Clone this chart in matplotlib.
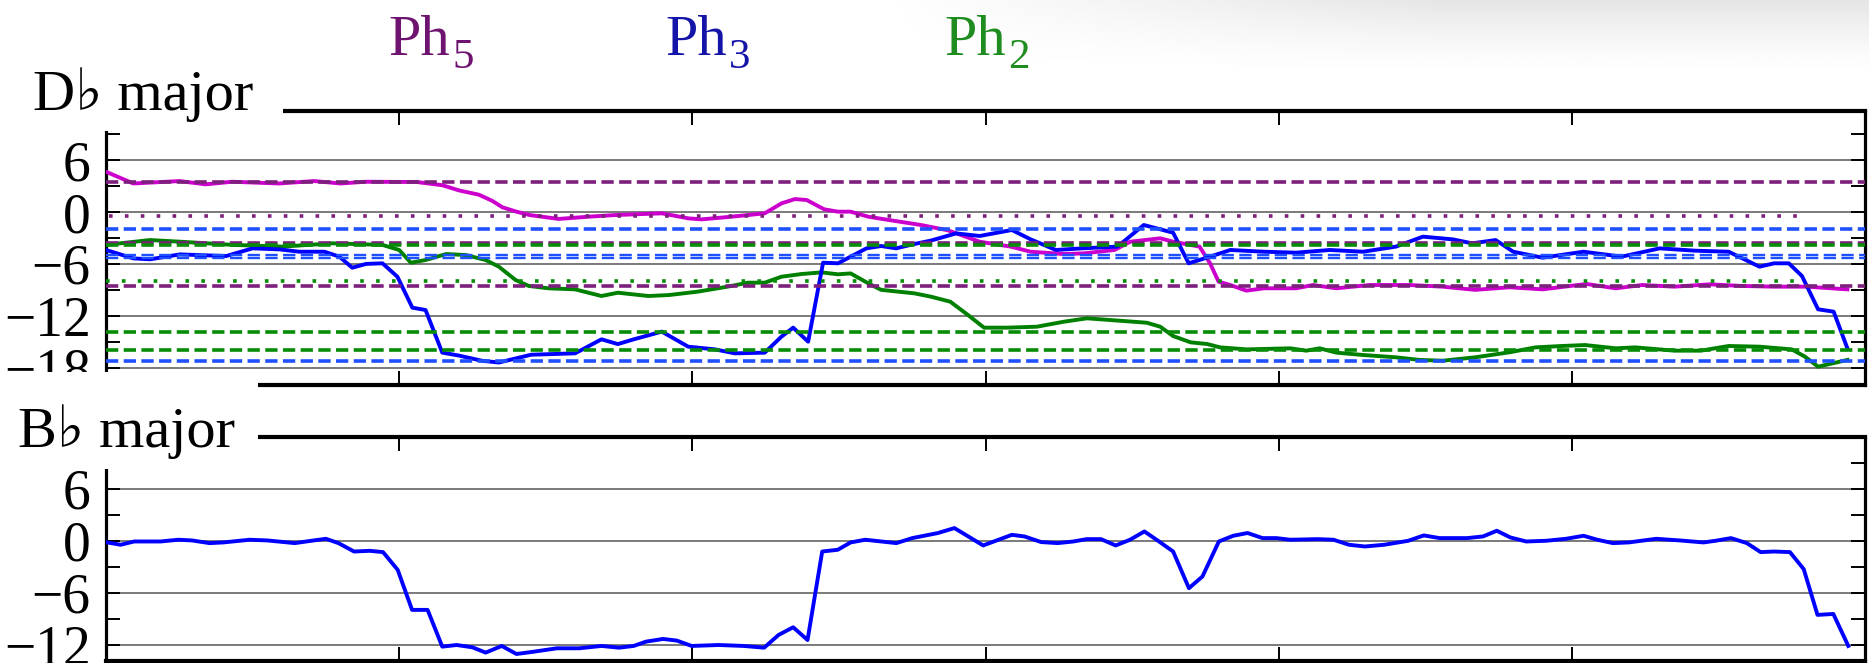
import numpy as np
import matplotlib
matplotlib.use("Agg")
import matplotlib.pyplot as plt
from matplotlib.patches import Rectangle

plt.rcParams['font.family'] = ['Liberation Serif', 'DejaVu Serif', 'DejaVu Sans']
plt.rcParams['axes.unicode_minus'] = True

# ---- data (x in tick units, y in semitones) ----
# D flat major panel
ph5_x = [0, 0.093, 0.25, 0.34, 0.43, 0.59, 0.71, 0.8, 0.885, 1.06,
         1.147, 1.204, 1.272, 1.317, 1.352, 1.4, 1.445, 1.544, 1.646, 1.737,
         1.896, 1.986, 2.032, 2.134, 2.247, 2.304, 2.35, 2.39, 2.45, 2.497,
         2.54, 2.6, 2.67, 2.78, 2.87, 2.98, 3.086, 3.154, 3.268, 3.335,
         3.44, 3.494, 3.596, 3.64, 3.73, 3.766, 3.795, 3.835, 3.89, 3.95,
         4.06, 4.117, 4.197, 4.31, 4.447, 4.56, 4.67, 4.787, 4.9, 5.05,
         5.15, 5.24, 5.35, 5.47, 5.58, 5.69, 5.8, 5.94]
ph5_y = [4.66, 3.3, 3.58, 3.2, 3.5, 3.3, 3.58, 3.3, 3.5, 3.47,
         3.1, 2.5, 2.0, 1.3, 0.55, 0.04, -0.35, -0.8, -0.54, -0.35,
         -0.15, -0.73, -0.85, -0.54, -0.15, 1.0, 1.5, 1.39, 0.31, 0.04,
         0.04, -0.54, -0.92, -1.5, -2.1, -3.43, -4.0, -4.59, -4.86, -4.78,
         -4.39, -3.43, -3.04, -3.43, -4.0, -5.93, -8.05, -8.44, -9.09, -8.82,
         -8.82, -8.44, -8.82, -8.44, -8.44, -8.63, -9.0, -8.7, -8.94, -8.32,
         -8.82, -8.44, -8.63, -8.36, -8.55, -8.63, -8.63, -8.94]

ph3_x = [0, 0.093, 0.15, 0.252, 0.41, 0.5, 0.592, 0.66, 0.745, 0.796,
         0.84, 0.887, 0.943, 0.994, 1.045, 1.09, 1.147, 1.204, 1.283, 1.34,
         1.45, 1.6, 1.69, 1.746, 1.8, 1.896, 1.986, 2.077, 2.145, 2.247,
         2.304, 2.344, 2.395, 2.446, 2.497, 2.594, 2.644, 2.695, 2.757, 2.814,
         2.9, 2.98, 3.09, 3.154, 3.24, 3.33, 3.45, 3.54, 3.64, 3.693,
         3.766, 3.835, 3.95, 4.06, 4.174, 4.288, 4.4, 4.492, 4.594, 4.66,
         4.74, 4.8, 4.9, 5.04, 5.17, 5.3, 5.42, 5.535, 5.64, 5.69,
         5.74, 5.785, 5.84, 5.893, 5.94]
ph3_y = [-4.39, -5.36, -5.47, -4.9, -5.09, -4.2, -4.32, -4.59, -4.59, -5.16,
         -6.44, -6.0, -5.93, -7.48, -11.06, -11.33, -16.26, -16.6, -17.2, -17.4,
         -16.5, -16.34, -14.72, -15.27, -14.72, -13.83, -15.57, -15.88, -16.34, -16.26,
         -14.41, -13.37, -14.99, -5.86, -5.93, -4.2, -3.93, -4.2, -3.7, -3.3,
         -2.47, -2.77, -2.08, -3.16, -4.39, -4.2, -4.0, -1.5, -2.39, -5.93,
         -5.16, -4.39, -4.59, -4.7, -4.39, -4.59, -4.0, -2.85, -3.16, -3.62,
         -3.24, -4.59, -5.28, -4.59, -5.16, -4.2, -4.47, -4.59, -6.32, -5.93,
         -5.93, -7.4, -11.25, -11.52, -15.76]

ph2_x = [0, 0.15, 0.252, 0.433, 0.6, 0.773, 0.943, 1.0, 1.04, 1.09,
         1.16, 1.227, 1.295, 1.34, 1.397, 1.442, 1.51, 1.6, 1.69, 1.746,
         1.85, 1.92, 2.02, 2.12, 2.19, 2.247, 2.304, 2.372, 2.44, 2.497,
         2.54, 2.6, 2.644, 2.757, 2.814, 2.88, 2.94, 2.995, 3.074, 3.175,
         3.268, 3.346, 3.426, 3.55, 3.596, 3.64, 3.7, 3.756, 3.8, 3.89,
         4.04, 4.094, 4.14, 4.197, 4.288, 4.4, 4.48, 4.56, 4.67, 4.787,
         4.876, 4.966, 5.045, 5.15, 5.216, 5.35, 5.44, 5.535, 5.64, 5.75,
         5.795, 5.84, 5.94]
ph2_y = [-3.8, -3.24, -3.43, -3.8, -4.0, -3.62, -3.8, -4.39, -5.86, -5.55,
         -4.86, -4.97, -5.55, -6.32, -7.86, -8.55, -8.82, -8.94, -9.71, -9.33,
         -9.71, -9.6, -9.2, -8.63, -8.17, -8.17, -7.48, -7.17, -6.98, -7.2,
         -7.1, -8.24, -9.0, -9.4, -9.79, -10.37, -11.9, -13.37, -13.37, -13.26,
         -12.68, -12.29, -12.49, -12.8, -13.26, -14.34, -15.07, -15.26, -15.65, -15.88,
         -15.76, -16.03, -15.76, -16.26, -16.53, -16.8, -17.1, -17.19, -16.8, -16.22,
         -15.65, -15.49, -15.38, -15.76, -15.65, -16.03, -16.03, -15.49, -15.57, -15.88,
         -16.72, -17.88, -17.1]

# reference levels (value, colour key, style, x range)
ref_levels = [3.5, -0.46, -2.0, -3.56, -3.87, -4.98, -5.32, -7.97, -8.5, -13.9, -16.0, -17.2]
ref_colors = ['purple', 'purple', 'blue', 'purple', 'green', 'blue', 'blue',
              'green', 'purple', 'green', 'green', 'blue']
ref_styles = ['dash', 'dot', 'dash', 'dash', 'dash', 'thin', 'thin',
              'dot', 'dash', 'dash', 'dash', 'dash']
ref_start = [0, 0.01, 0, 0, 0, 0, 0, 0, 0, 0, 0, 0]
ref_end = [6, 5.8, 6, 6, 6, 6, 6, 5.77, 6, 6, 6, 6]

# B flat major panel
bb_x = [0.004, 0.05, 0.096, 0.186, 0.247, 0.293, 0.353, 0.4, 0.49, 0.55,
        0.644, 0.7, 0.75, 0.793, 0.846, 0.9, 0.945, 0.995, 1.044, 1.097,
        1.147, 1.196, 1.25, 1.295, 1.35, 1.4, 1.46, 1.538, 1.614, 1.69,
        1.75, 1.8, 1.842, 1.9, 1.947, 1.998, 2.09, 2.175, 2.245, 2.294,
        2.344, 2.393, 2.443, 2.496, 2.54, 2.59, 2.696, 2.75, 2.837, 2.894,
        2.992, 3.09, 3.133, 3.19, 3.246, 3.3, 3.345, 3.394, 3.444, 3.493,
        3.542, 3.592, 3.64, 3.694, 3.74, 3.796, 3.845, 3.894, 3.945, 3.992,
        4.04, 4.133, 4.187, 4.24, 4.294, 4.36, 4.442, 4.495, 4.549, 4.643,
        4.697, 4.744, 4.79, 4.844, 4.912, 4.98, 5.04, 5.087, 5.14, 5.194,
        5.288, 5.368, 5.449, 5.49, 5.543, 5.597, 5.644, 5.69, 5.744, 5.791,
        5.838, 5.892, 5.943]
bb_y = [-0.19, -0.46, -0.08, -0.08, 0.12, 0.04, -0.27, -0.19, 0.12, 0.04,
        -0.27, 0.0, 0.23, -0.27, -1.24, -1.16, -1.31, -3.36, -7.99, -7.99,
        -12.24, -12.05, -12.32, -12.93, -12.16, -13.09, -12.82, -12.43, -12.43, -12.16,
        -12.36, -12.16, -11.66, -11.35, -11.54, -12.16, -12.05, -12.16, -12.36, -10.89,
        -10.0, -11.47, -1.24, -1.04, -0.19, 0.12, -0.27, 0.31, 0.89, 1.47,
        -0.54, 0.69, 0.5, -0.15, -0.27, -0.08, 0.19, 0.19, -0.54, 0.12,
        1.08, -0.08, -1.24, -5.48, -4.13, -0.08, 0.58, 0.9, 0.31, 0.31,
        0.12, 0.19, 0.12, -0.46, -0.66, -0.46, 0.0, 0.62, 0.31, 0.31,
        0.5, 1.16, 0.39, -0.08, 0.0, 0.23, 0.58, 0.12, -0.27, -0.19,
        0.23, 0.04, -0.19, 0.0, 0.31, -0.27, -1.31, -1.24, -1.31, -3.28,
        -8.57, -8.46, -12.16]

colors = {'magenta': '#cc00cc', 'purple': '#7d1f7d', 'blue': '#0000ff',
          'blue_ref': '#1f50ff', 'green': '#008000', 'green_ref': '#068c06'}

W, H = 1869, 663
fig = plt.figure(figsize=(W / 100, H / 100), dpi=100)
fig.patch.set_facecolor('white')


def fx(px):
    return px / W


def fy(py):
    return 1 - py / H


# faint grey shadow at the top right
bg = fig.add_axes([0, fy(95), 1, 95 / H], zorder=-5)
gx = np.linspace(0, 1, 300)
gy = np.linspace(0, 1, 40)
sx = np.clip((gx - 0.47) / 0.3, 0, 1)
ty = np.clip(1 - gy / 0.8, 0, 1) ** 1.4
bg.imshow(1 - 0.1 * np.outer(ty, sx), cmap='gray', vmin=0, vmax=1,
          aspect='auto', extent=[0, 1, 0, 1], interpolation='bilinear')
bg.axis('off')


def style_axes(ax, ymin, ymax, grid_vals, tick_vals):
    ax.set_xlim(0, 5.983)
    ax.set_ylim(ymin, ymax)
    ax.set_xticks(range(7))
    ax.set_xticklabels([])
    labels = [(f'{v:d}'.replace('-', '\u2212') if v % 6 == 0 else '') for v in tick_vals]
    ax.set_yticks(tick_vals, labels)
    ax.tick_params(axis='both', direction='in', length=10, width=1.4,
                   top=True, bottom=True, left=True, right=True,
                   labelsize=40, pad=11)
    for side in ['left', 'right']:
        ax.spines[side].set_linewidth(2.3)
    for side in ['top', 'bottom']:
        ax.spines[side].set_linewidth(3.0)
    for g in grid_vals:
        ax.axhline(g, color='#7a7a7a', lw=1.4, zorder=1)
    ax.set_facecolor('none')


# ---- top panel: D flat major ----
ax1 = fig.add_axes([fx(106), fy(385), fx(1865 - 106), (385 - 111) / H])
style_axes(ax1, -20.0, 11.68, [6, 0, -6, -12, -18], list(range(-18, 10, 3)))

ax1.plot(ph5_x, ph5_y, color=colors['magenta'], lw=2.8, zorder=3)
ax1.plot(ph2_x, ph2_y, color=colors['green'], lw=2.8, zorder=3)
ax1.plot(ph3_x, ph3_y, color=colors['blue'], lw=2.8, zorder=3)

ref_color_map = {'purple': colors['purple'], 'blue': colors['blue_ref'],
                 'green': colors['green_ref']}
for lvl, ck, st, x0, x1 in zip(ref_levels, ref_colors, ref_styles, ref_start, ref_end):
    c = ref_color_map[ck]
    if st == 'dash':
        ax1.plot([x0, x1], [lvl, lvl], color=c, lw=2.6, dashes=(3.4, 1.5), zorder=4)
    elif st == 'thin':
        ax1.plot([x0, x1], [lvl, lvl], color=c, lw=1.7, dashes=(5.2, 2.3), zorder=4)
    else:
        ax1.plot([x0, x1], [lvl, lvl], color=c, lw=2.6, dashes=(1, 3.4), zorder=4)

# ---- bottom panel: B flat major ----
ax2 = fig.add_axes([fx(106), fy(661), fx(1865 - 106), (661 - 437) / H])
style_axes(ax2, -13.9, 12.0, [6, 0, -6, -12], list(range(-12, 10, 3)))
ax2.plot(bb_x, bb_y, color=colors['blue'], lw=2.8, zorder=3)

# white boxes behind the key labels (they hide the spine corners)
fig.add_artist(Rectangle((0, fy(131)), fx(283), 1 - fy(131), transform=fig.transFigure,
                         facecolor='white', edgecolor='none', zorder=5))
fig.add_artist(Rectangle((0, fy(469)), fx(258), (469 - 372) / H, transform=fig.transFigure,
                         facecolor='white', edgecolor='none', zorder=5))

fig.text(fx(33), fy(110), 'D\u266d major', fontsize=42, ha='left', va='baseline', zorder=6)
fig.text(fx(18), fy(447), 'B\u266d major', fontsize=42, ha='left', va='baseline', zorder=6)

# phrase labels: "Ph" with a large, low subscript digit
phrase_nums = ['5', '3', '2']
phrase_colors = ['#6e1470', '#1414a8', '#1f8c1f']
phrase_px = [430, 707, 986]
for num, c, px in zip(phrase_nums, phrase_colors, phrase_px):
    fig.text(fx(px + 20), fy(55), 'Ph', fontsize=42, color=c, ha='right', va='baseline', zorder=6)
    fig.text(fx(px + 22), fy(68), num, fontsize=31, color=c, ha='left', va='baseline', zorder=6)

fig.savefig('out.png', dpi=100, facecolor='white')
